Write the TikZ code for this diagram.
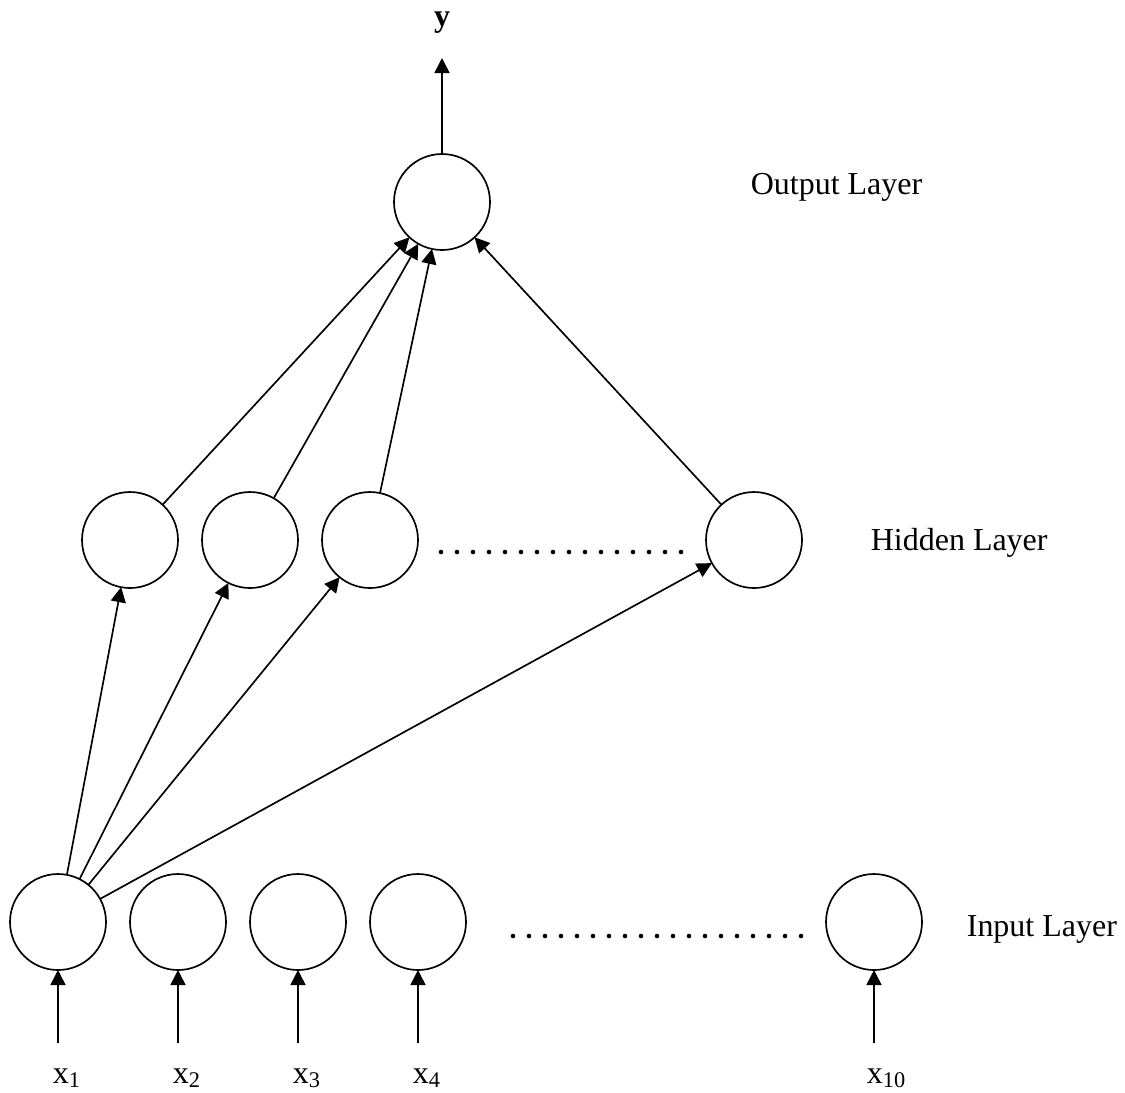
\documentclass[tikz,border=0pt]{standalone}
\usepackage{fontspec}
\setmainfont{Liberation Serif}
\usetikzlibrary{arrows.meta,positioning}

\begin{document}
\begin{tikzpicture}[line width=0.95pt, font=\fontsize{18.2}{22}\selectfont]

\tikzstyle{neuron} = [circle, minimum size=1.92cm, inner sep=0pt, outer sep=0pt, draw=black]
\tikzstyle{arr} = [-{Triangle[length=0.3cm,width=0.3cm]}]
\tikzstyle{lbl} = [anchor=base west, inner sep=0pt]
\useasboundingbox (0,0) rectangle (22.5,-21.84);

% output layer
\node (out) [neuron] at (8.84,-4.04) {};
\node (y) [anchor=base, inner sep=0pt] at (8.84,-0.52) {\textbf{y}};
\coordinate (ytip) at (8.84,-1.16);
\node (outlbl) [lbl] at (15.0,-3.88) {Output Layer};

% hidden layer
\node (h1) [neuron] at (2.6,-10.8) {};
\node (h2) [neuron, right=0.48cm of h1] {};
\node (h3) [neuron, right=0.48cm of h2] {};
\node (hn) [neuron] at (15.08,-10.8) {};
\node (hidlbl) [lbl] at (17.4,-11.0) {Hidden Layer};

% input layer
\node (i1) [neuron] at (1.16,-18.44) {};
\node (i2) [neuron, right=0.48cm of i1] {};
\node (i3) [neuron, right=0.48cm of i2] {};
\node (i4) [neuron, right=0.48cm of i3] {};
\node (in) [neuron] at (17.48,-18.44) {};
\node (inlbl) [lbl] at (19.32,-18.72) {Input Layer};

% inputs
\coordinate [below=1.46cm of i1] (a1);
\coordinate [below=1.46cm of i2] (a2);
\coordinate [below=1.46cm of i3] (a3);
\coordinate [below=1.46cm of i4] (a4);
\coordinate [below=1.46cm of in] (an);
\node (x1) [lbl] at (1.04,-21.66) {x\textsubscript{1}};
\node (x2) [lbl] at (3.44,-21.66) {x\textsubscript{2}};
\node (x3) [lbl] at (5.84,-21.66) {x\textsubscript{3}};
\node (x4) [lbl] at (8.24,-21.66) {x\textsubscript{4}};
\node (x10) [lbl] at (17.32,-21.66) {x\textsubscript{10}};

\draw[arr] (a1) -- (i1);
\draw[arr] (a2) -- (i2);
\draw[arr] (a3) -- (i3);
\draw[arr] (a4) -- (i4);
\draw[arr] (an) -- (in);

\draw[arr] (i1) -- (h1);
\draw[arr] (i1) -- (h2);
\draw[arr] (i1) -- (h3);
\draw[arr] (i1) -- (hn);

\draw[arr] (h1) -- (out);
\draw[arr] (h2) -- (out);
\draw[arr] (h3) -- (out);
\draw[arr] (hn) -- (out);
\draw[arr] (out) -- (ytip);

% dots
\foreach \i in {0,...,15}
  \fill (8.82+0.32*\i,-11.04) circle (0.046);
\foreach \i in {0,...,18}
  \fill (10.26+0.32*\i,-18.72) circle (0.046);

\end{tikzpicture}
\end{document}
